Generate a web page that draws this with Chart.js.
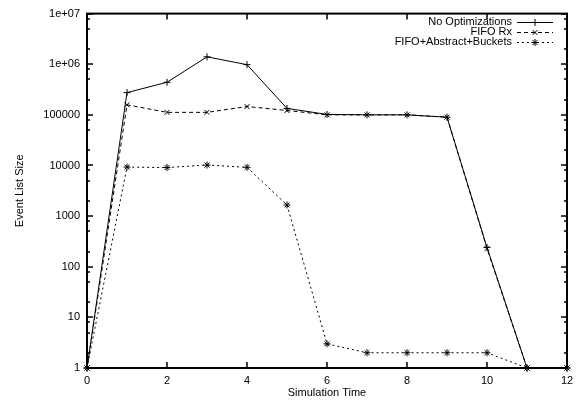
<!DOCTYPE html>
<html>

<head>
    <title>Event List Size</title>
    <script src="https://cdn.jsdelivr.net/npm/chart.js"></script>
    <style>
        body { margin: 0; background: #fff; }
        #wrap { width: 582px; height: 403px; }
    </style>
</head>

<body>
    <div id="wrap"><canvas id="eventChart" width="582" height="403"></canvas></div>

    <script>
        const times = [0, 1, 2, 3, 4, 5, 6, 7, 8, 9, 10, 11, 12];
        const noOpt = [1, 275000, 440000, 1400000, 980000, 134000, 102000, 100000, 100000, 90000, 240, 1, 1];
        const fifoRx = [1, 158000, 112000, 112000, 146000, 122000, 100000, 100000, 100000, 90000, 230, 1, 1];
        const fifoBuckets = [1, 9300, 9100, 10200, 9200, 1660, 3, 2, 2, 2, 2, 1, 1];
        const seriesNames = ['No Optimizations', 'FIFO Rx', 'FIFO+Abstract+Buckets'];
        const yTicks = [1, 10, 100, 1000, 10000, 100000, 1000000, 10000000];
        const yTickLabels = ['1', '10', '100', '1000', '10000', '100000', '1e+06', '1e+07'];
        const xTicks = [0, 2, 4, 6, 8, 10, 12];

        const FONT = '"Liberation Sans", Arial, sans-serif';

        function pts(vals) {
            return times.map((t, i) => ({ x: t, y: vals[i] }));
        }

        // gnuplot-ish frame, inward ticks, mirrored ticks, axis titles and legend
        const framePlugin = {
            id: 'frame',
            beforeDatasetsDraw(chart) {
                const ctx = chart.ctx;
                const a = chart.chartArea;
                const xs = chart.scales.x, ys = chart.scales.y;
                ctx.save();
                ctx.strokeStyle = '#000';
                ctx.setLineDash([]);
                ctx.lineWidth = 2;
                ctx.strokeRect(a.left, a.top, a.right - a.left, a.bottom - a.top);

                ctx.lineWidth = 1.5;
                ctx.beginPath();
                xTicks.forEach(v => {
                    const px = Math.round(xs.getPixelForValue(v));
                    ctx.moveTo(px, a.bottom); ctx.lineTo(px, a.bottom - 6);
                    ctx.moveTo(px, a.top); ctx.lineTo(px, a.top + 6);
                });
                yTicks.forEach(v => {
                    const py = Math.round(ys.getPixelForValue(v));
                    ctx.moveTo(a.left, py); ctx.lineTo(a.left + 6, py);
                    ctx.moveTo(a.right, py); ctx.lineTo(a.right - 6, py);
                    if (v < 10000000) {
                        [2, 5, 8].forEach(m => {
                            const q = Math.round(ys.getPixelForValue(v * m));
                            ctx.moveTo(a.left, q); ctx.lineTo(a.left + 3, q);
                            ctx.moveTo(a.right, q); ctx.lineTo(a.right - 3, q);
                        });
                    }
                });
                ctx.stroke();
                ctx.restore();
            },
            afterDraw(chart) {
                const ctx = chart.ctx;
                const a = chart.chartArea;
                ctx.save();
                ctx.strokeStyle = '#000';
                ctx.lineWidth = 1;
                ctx.fillStyle = '#000';
                ctx.font = '11px ' + FONT;
                ctx.textAlign = 'center';
                ctx.textBaseline = 'middle';

                // axis titles
                ctx.fillText('Simulation Time', (a.left + a.right) / 2, 393);
                ctx.save();
                ctx.translate(20, (a.top + a.bottom) / 2);
                ctx.rotate(-Math.PI / 2);
                ctx.fillText('Event List Size', 0, 0);
                ctx.restore();

                // legend
                const rows = [22, 32, 42];
                chart.data.datasets.forEach((ds, i) => {
                    const y = rows[i];
                    ctx.textAlign = 'right';
                    ctx.fillText(ds.label, 512, y);
                    ctx.beginPath();
                    ctx.setLineDash(ds.borderDash || []);
                    ctx.moveTo(517, y + 0.5); ctx.lineTo(553, y + 0.5);
                    ctx.stroke();
                    ctx.setLineDash([]);
                    Chart.helpers.drawPoint(ctx, {
                        pointStyle: ds.pointStyle, radius: 3.5, borderWidth: 1
                    }, 535, y + 0.5);
                });
                ctx.restore();
            }
        };

        function createChart() {
            const ctx = document.getElementById('eventChart').getContext('2d');

            const common = {
                borderColor: '#000',
                backgroundColor: '#000',
                borderWidth: 1,
                pointRadius: 3.5,
                pointBorderWidth: 1,
                pointBorderColor: '#000',
                pointBackgroundColor: '#000',
                tension: 0,
                fill: false,
                clip: false
            };

            const data = {
                datasets: [
                    Object.assign({}, common, { label: seriesNames[0], data: pts(noOpt), pointStyle: 'cross' }),
                    Object.assign({}, common, { label: seriesNames[1], data: pts(fifoRx), pointStyle: 'crossRot', borderDash: [4, 3] }),
                    Object.assign({}, common, { label: seriesNames[2], data: pts(fifoBuckets), pointStyle: 'star', borderDash: [2, 3] })
                ]
            };

            const options = {
                responsive: false,
                animation: false,
                layout: { padding: { top: 12, right: 15, left: 0, bottom: 0 } },
                plugins: {
                    legend: { display: false },
                    tooltip: { enabled: false }
                },
                scales: {
                    x: {
                        type: 'linear',
                        min: 0,
                        max: 12,
                        grid: { display: false, drawTicks: false },
                        border: { display: false },
                        afterFit: s => { s.height = 35; },
                        afterBuildTicks: s => { s.ticks = xTicks.map(v => ({ value: v })); },
                        ticks: {
                            padding: 6,
                            color: '#000',
                            font: { family: FONT, size: 11 },
                            maxRotation: 0,
                            callback: v => String(v)
                        }
                    },
                    y: {
                        type: 'logarithmic',
                        min: 1,
                        max: 10000000,
                        grid: { display: false, drawTicks: false },
                        border: { display: false },
                        afterFit: s => { s.width = 87; },
                        afterBuildTicks: s => { s.ticks = yTicks.map(v => ({ value: v })); },
                        ticks: {
                            padding: 7,
                            color: '#000',
                            font: { family: FONT, size: 11 },
                            callback: v => yTickLabels[yTicks.indexOf(v)] || ''
                        }
                    }
                }
            };

            new Chart(ctx, { type: 'line', data, options, plugins: [framePlugin] });
        }

        createChart();
    </script>

</body>

</html>
